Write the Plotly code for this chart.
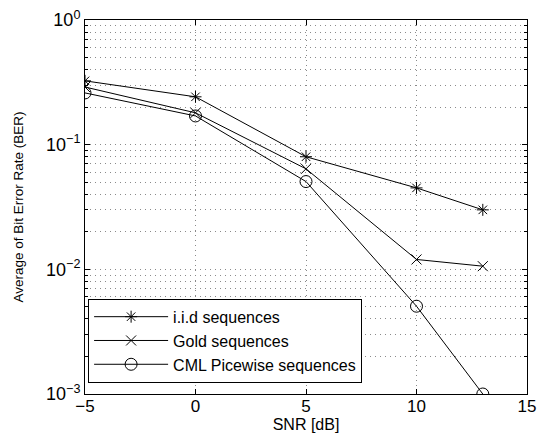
import plotly.graph_objects as go

snr = [-5, 0, 5, 10, 13]
ber_iid = [0.325, 0.242, 0.080, 0.045, 0.030]
ber_gold = [0.29, 0.18, 0.064, 0.012, 0.0106]
ber_cml = [0.26, 0.17, 0.0506, 0.00506, 0.001]
names = ["i.i.d sequences", "Gold sequences", "CML Picewise sequences"]
symbols = ["asterisk-open", "x-thin-open", "circle-open"]

x_ticks = [-5, 0, 5, 10, 15]
x_tick_text = ["−5", "0", "5", "10", "15"]
y_ticks = [1e-3, 1e-2, 1e-1, 1]
y_tick_text = ["10<sup>−3</sup>", "10<sup>−2</sup>", "10<sup>−1</sup>", "10<sup>0</sup>"]
y_minor = [m * 10 ** e for e in (-3, -2, -1) for m in range(2, 10)]

fig = go.Figure()
for ys, nm, sym in zip([ber_iid, ber_gold, ber_cml], names, symbols):
    fig.add_trace(go.Scatter(
        x=snr, y=ys, name=nm, mode="lines+markers",
        line=dict(color="black", width=1),
        marker=dict(symbol=sym, size=10 if sym != "circle-open" else 12,
                    color="black", line=dict(color="black", width=1)),
    ))

grid_col = "#8a8a8a"
dots = "1px,4px"
fig.update_layout(
    width=539, height=434,
    margin=dict(l=85, r=12, t=20, b=40),
    paper_bgcolor="white", plot_bgcolor="white",
    font=dict(family="Liberation Sans, Arial, sans-serif", color="black", size=18),
    showlegend=True,
    legend=dict(x=0.007, y=0.03, xanchor="left", yanchor="bottom",
                bgcolor="white", bordercolor="black", borderwidth=1,
                font=dict(size=16), tracegroupgap=0, itemwidth=74),
)
fig.update_xaxes(
    range=[-5, 15], tickvals=x_ticks, ticktext=x_tick_text,
    showline=True, linecolor="black", linewidth=1, mirror="ticks",
    ticks="inside", ticklen=5, tickcolor="black",
    showgrid=True, gridcolor=grid_col, griddash=dots, gridwidth=1,
    zeroline=False, tickfont=dict(size=17), automargin=False,
    ticklabelstandoff=-3,
    title=dict(text="SNR [dB]", font=dict(size=16), standoff=0),
)
fig.update_yaxes(
    type="log", range=[-3, 0], tickvals=y_ticks, ticktext=y_tick_text,
    showline=True, linecolor="black", linewidth=1, mirror="ticks",
    ticks="inside", ticklen=5, tickcolor="black",
    showgrid=True, gridcolor=grid_col, griddash=dots, gridwidth=1,
    minor=dict(tickvals=y_minor, ticks="inside", ticklen=3, tickcolor="black",
               showgrid=True, gridcolor=grid_col, griddash=dots, gridwidth=1),
    zeroline=False, tickfont=dict(size=18), automargin=False,
    title=dict(text="Average of Bit Error Rate (BER)", font=dict(size=13.5), standoff=19),
)
fig.write_html("out.html", config={"displayModeBar": False},
               post_script="document.body.style.margin='0';")
